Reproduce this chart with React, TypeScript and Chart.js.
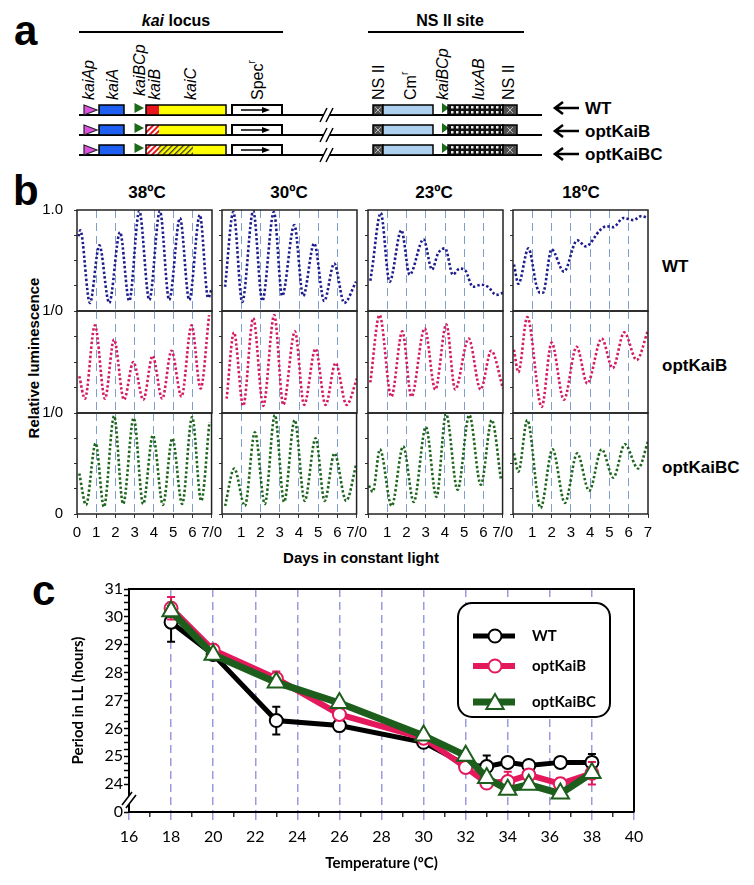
import React, { useEffect, useRef } from "react";
import { Chart, registerables } from "chart.js";

Chart.register(...registerables);

// ---------------- Panel b data: [day, relative luminescence] read at peaks/troughs ----------------
const dayTicks = [0, 1, 2, 3, 4, 5, 6, 7];
const tempLabels = ["38ºC", "30ºC", "23ºC", "18ºC"];
const strainLabels = ["WT", "optKaiB", "optKaiBC"];

const wt38: number[][] = [[0.08, 0.74], [0.17, 0.8], [0.67, 0.08], [1.16, 0.65], [1.67, 0.08], [2.23, 0.78], [2.71, 0.1], [3.23, 0.99], [3.75, 0.11], [4.3, 0.99], [4.78, 0.11], [5.34, 0.92], [5.82, 0.11], [6.37, 0.95], [6.8, 0.13], [6.98, 0.22]];
const okb38: number[][] = [[0.12, 0.36], [0.41, 0.14], [0.93, 0.86], [1.45, 0.14], [1.92, 0.72], [2.44, 0.13], [2.92, 0.5], [3.44, 0.13], [3.92, 0.56], [4.42, 0.14], [4.9, 0.61], [5.42, 0.16], [5.94, 0.86], [6.41, 0.24], [6.85, 0.96]];
const okbc38: number[][] = [[0.12, 0.4], [0.47, 0.09], [0.97, 0.7], [1.4, 0.07], [1.93, 0.97], [2.4, 0.1], [2.95, 0.95], [3.44, 0.1], [3.95, 0.78], [4.47, 0.09], [4.96, 0.75], [5.47, 0.1], [5.99, 0.96], [6.46, 0.13], [6.89, 0.91]];

const wt30: number[][] = [[0.16, 0.24], [0.59, 0.98], [1.05, 0.09], [1.62, 0.99], [2.09, 0.1], [2.69, 0.98], [3.12, 0.15], [3.75, 0.85], [4.21, 0.15], [4.78, 0.67], [5.3, 0.1], [5.82, 0.47], [6.34, 0.08], [6.95, 0.29]];
const okb30: number[][] = [[0.24, 0.14], [0.62, 0.79], [1.1, 0.07], [1.62, 0.93], [2.14, 0.07], [2.71, 0.96], [3.18, 0.08], [3.78, 0.8], [4.26, 0.08], [4.85, 0.63], [5.37, 0.08], [5.89, 0.49], [6.46, 0.08], [7.0, 0.34]];
const okbc30: number[][] = [[0.16, 0.08], [0.64, 0.45], [1.19, 0.08], [1.71, 0.81], [2.23, 0.1], [2.75, 0.98], [3.23, 0.12], [3.78, 0.93], [4.3, 0.13], [4.87, 0.75], [5.34, 0.13], [5.85, 0.6], [6.46, 0.13], [6.98, 0.49]];

const wt23: number[][] = [[0.12, 0.3], [0.2, 0.4], [0.66, 0.97], [1.12, 0.29], [1.73, 0.8], [2.16, 0.36], [2.88, 0.71], [3.32, 0.41], [3.63, 0.57], [4.0, 0.62], [4.4, 0.36], [4.75, 0.42], [5.05, 0.4], [5.44, 0.24], [5.87, 0.26], [6.22, 0.24], [6.65, 0.16], [7.0, 0.18]];
const okb23: number[][] = [[0.12, 0.3], [0.6, 0.96], [1.21, 0.16], [1.78, 0.8], [2.25, 0.16], [2.94, 0.83], [3.49, 0.23], [4.06, 0.87], [4.52, 0.23], [5.22, 0.73], [5.84, 0.23], [6.39, 0.61], [7.0, 0.24]];
const okbc23: number[][] = [[0.05, 0.28], [0.25, 0.22], [0.62, 0.64], [1.23, 0.08], [1.83, 0.67], [2.38, 0.12], [3.01, 0.86], [3.56, 0.17], [4.06, 0.99], [4.66, 0.24], [5.27, 0.98], [5.87, 0.29], [6.44, 0.93], [6.91, 0.35]];

const wt18: number[][] = [[0.05, 0.46], [0.28, 0.27], [0.8, 0.62], [1.22, 0.25], [1.4, 0.18], [1.55, 0.18], [2.0, 0.61], [2.64, 0.39], [3.33, 0.7], [3.78, 0.64], [4.51, 0.8], [4.85, 0.84], [5.2, 0.83], [5.72, 0.92], [6.24, 0.9], [6.67, 0.94], [7.0, 0.92]];
const okb18: number[][] = [[0.05, 0.62], [0.28, 0.4], [0.74, 0.94], [1.49, 0.06], [2.0, 0.69], [2.64, 0.13], [3.3, 0.65], [3.85, 0.29], [4.6, 0.73], [5.17, 0.44], [5.77, 0.79], [6.41, 0.52], [7.0, 0.81]];
const okbc18: number[][] = [[0.05, 0.6], [0.28, 0.42], [0.74, 0.93], [1.43, 0.06], [2.05, 0.64], [2.69, 0.11], [3.33, 0.6], [3.95, 0.23], [4.6, 0.64], [5.2, 0.36], [5.8, 0.69], [6.49, 0.45], [7.0, 0.72]];

const traces = [
  [wt38, okb38, okbc38],
  [wt30, okb30, okbc30],
  [wt23, okb23, okbc23],
  [wt18, okb18, okbc18],
];

// ---------------- Panel c data ----------------
const temps = [18, 20, 23, 26, 30, 32, 33, 34, 35, 36.5, 38];
const wtPeriod = [29.81, 28.65, 26.28, 26.1, 25.5, 24.69, 24.63, 24.78, 24.67, 24.78, 24.78];
const wtErr = [0.7, 0.1, 0.5, 0.1, 0.1, 0.1, 0.4, 0.15, 0.1, 0.1, 0.3];
const okbPeriod = [30.31, 28.81, 27.79, 26.5, 25.65, 24.6, 24.04, 24.09, 24.33, 24.01, 24.39];
const okbErr = [0.4, 0.2, 0.25, 0.15, 0.1, 0.1, 0.15, 0.35, 0.15, 0.2, 0.4];
const okbcPeriod = [30.2, 28.64, 27.65, 26.91, 25.74, 25.02, 24.22, 23.8, 23.98, 23.66, 24.4];
const okbcErr = [0.2, 0.1, 0.15, 0.1, 0.1, 0.1, 0.15, 0.1, 0.1, 0.1, 0.15];
const xTicksC = [16, 18, 20, 22, 24, 26, 28, 30, 32, 34, 36, 38, 40];
const yTicksC = [24, 25, 26, 27, 28, 29, 30, 31];

// ---------------- styles ----------------
const FONT_B = "'Liberation Sans', Arial, sans-serif";
const FONT_C = "Lato, 'Open Sans', sans-serif";
const traceColors = ["#1c1c8c", "#d41a60", "#1d651d"];
const DASH_B = "#7f9ecb";
const GRID_C = "#9a9ae0";
const C_BLACK = "#000000";
const C_PINK = "#e4195c";
const C_GREEN = "#1d5e1d";

const COL_LEFT = [77, 222, 368, 513];
const ROW_TOP = [210, 311, 413];
const ROW_H = [101, 102, 101];
const PLOT_W = 135;
const PT = 24;
const PR = 16;

function ChartCanvas(props: { left: number; top: number; width: number; height: number; build: () => any }) {
  const ref = useRef<HTMLCanvasElement>(null);
  useEffect(() => {
    const chart = new Chart(ref.current as HTMLCanvasElement, props.build());
    return () => chart.destroy();
  }, []);
  return (
    <canvas
      ref={ref}
      width={props.width}
      height={props.height}
      style={{ position: "absolute", left: props.left, top: props.top, width: props.width, height: props.height }}
    />
  );
}

const frameB = {
  id: "frameB",
  afterDatasetsDraw(chart: any) {
    const { ctx, chartArea: a } = chart;
    ctx.save();
    ctx.strokeStyle = "#222";
    ctx.lineWidth = 1.5;
    ctx.strokeRect(a.left, a.top, a.right - a.left, a.bottom - a.top);
    ctx.restore();
  },
};

function traceConfig(c: number, r: number) {
  const pts = traces[c][r];
  const bottom = r === 2;
  return {
    type: "line",
    data: {
      datasets: [
        {
          data: pts.map(([x, y]) => ({ x, y })),
          borderColor: traceColors[r],
          borderWidth: 2.6,
          borderDash: [2.4, 2.2],
          pointRadius: 0,
          cubicInterpolationMode: "monotone",
          fill: false,
        },
      ],
    },
    options: {
      animation: false,
      responsive: false,
      devicePixelRatio: 1,
      events: [],
      layout: { padding: { top: PT, right: PR, left: 0, bottom: 0 } },
      plugins: { legend: { display: false }, tooltip: { enabled: false } },
      scales: {
        x: {
          type: "linear",
          min: dayTicks[0],
          max: dayTicks[dayTicks.length - 1],
          afterFit: (s: any) => {
            s.height = bottom ? 32 : 24;
          },
          ticks: {
            display: bottom,
            stepSize: 1,
            autoSkip: false,
            maxRotation: 0,
            padding: 6,
            color: "#000",
            font: { family: FONT_B, size: 15 },
            callback: (v: number) => {
              if (v === 0 && c > 0) return "";
              if (v === 7 && c < 3) return "7/0";
              return String(v);
            },
          },
          grid: {
            color: (ctx: any) => {
              const v = ctx.tick ? ctx.tick.value : 0;
              return v > 0 && v < 7 ? DASH_B : "transparent";
            },
            lineWidth: 1,
            drawTicks: bottom,
            tickLength: 4,
            tickColor: "#333",
            tickWidth: 1,
          },
          border: { display: false, dash: [8, 5] },
        },
        y: {
          min: 0,
          max: 1,
          afterFit: (s: any) => {
            s.width = c === 0 ? 40 : 8;
          },
          ticks: {
            display: c === 0,
            stepSize: 0.25,
            autoSkip: false,
            padding: 11,
            color: "#000",
            font: { family: FONT_B, size: 15 },
            callback: (v: number) => {
              if (v === 1) return r === 0 ? "1.0" : "1/0";
              if (v === 0 && r === 2) return "0";
              return "";
            },
          },
          grid: { drawOnChartArea: false, tickLength: 3, tickColor: "#333", tickWidth: 1 },
          border: { display: false },
        },
      },
    },
    plugins: [frameB],
  };
}

// ---------------- Panel c plugins ----------------
const errorBars = {
  id: "errorBars",
  beforeDatasetDraw(chart: any, args: any) {
    const ds = chart.data.datasets[args.index];
    if (!ds.errors) return;
    const ys = chart.scales.y;
    const ctx = chart.ctx;
    ctx.save();
    ctx.strokeStyle = ds.borderColor;
    ctx.lineWidth = 2;
    args.meta.data.forEach((pt: any, j: number) => {
      const v = ds.data[j].y;
      const e = ds.errors[j];
      const yTop = ys.getPixelForValue(v + e);
      const yBot = ys.getPixelForValue(v - e);
      ctx.beginPath();
      ctx.moveTo(pt.x, yTop);
      ctx.lineTo(pt.x, yBot);
      ctx.moveTo(pt.x - 4, yTop);
      ctx.lineTo(pt.x + 4, yTop);
      ctx.moveTo(pt.x - 4, yBot);
      ctx.lineTo(pt.x + 4, yBot);
      ctx.stroke();
    });
    ctx.restore();
  },
};

function drawMarker(ctx: CanvasRenderingContext2D, ds: any, x: number, y: number) {
  ctx.save();
  ctx.fillStyle = "#fff";
  ctx.strokeStyle = ds.pointBorderColor;
  ctx.lineWidth = ds.pointBorderWidth;
  ctx.beginPath();
  const r = ds.pointRadius;
  if (ds.pointStyle === "triangle") {
    for (let k = 0; k < 3; k++) {
      const a = (k * 2 * Math.PI) / 3;
      const px = x + Math.sin(a) * r;
      const py = y - Math.cos(a) * r;
      if (k === 0) ctx.moveTo(px, py);
      else ctx.lineTo(px, py);
    }
    ctx.closePath();
  } else {
    ctx.arc(x, y, r, 0, Math.PI * 2);
  }
  ctx.fill();
  ctx.stroke();
  ctx.restore();
}

const decorC = {
  id: "decorC",
  afterDraw(chart: any) {
    const { ctx, chartArea: a, scales } = chart;
    ctx.save();
    // top and right frame
    ctx.strokeStyle = "#000";
    ctx.lineWidth = 2;
    ctx.beginPath();
    ctx.moveTo(a.left, a.top);
    ctx.lineTo(a.right, a.top);
    ctx.lineTo(a.right, a.bottom);
    ctx.stroke();
    // axis break
    const yb = (scales.y.getPixelForValue(24) + scales.y.getPixelForValue(23)) / 2 + 2;
    const x0 = a.left;
    ctx.fillStyle = "#fff";
    ctx.beginPath();
    ctx.moveTo(x0 - 7, yb + 5);
    ctx.lineTo(x0 + 3, yb - 8);
    ctx.lineTo(x0 + 7, yb - 5);
    ctx.lineTo(x0 - 3, yb + 8);
    ctx.closePath();
    ctx.fill();
    ctx.lineWidth = 1.6;
    ctx.beginPath();
    ctx.moveTo(x0 - 7, yb + 5);
    ctx.lineTo(x0 + 3, yb - 8);
    ctx.moveTo(x0 - 3, yb + 8);
    ctx.lineTo(x0 + 7, yb - 5);
    ctx.stroke();
    // legend
    const bx = a.left + 329;
    const by = a.top + 14;
    const bw = 152;
    const bh = 114;
    ctx.beginPath();
    ctx.roundRect(bx, by, bw, bh, 14);
    ctx.fillStyle = "#fff";
    ctx.fill();
    ctx.lineWidth = 2;
    ctx.strokeStyle = "#000";
    ctx.stroke();
    const entryY = [33, 63, 99];
    chart.data.datasets.forEach((ds: any, i: number) => {
      const y = by + entryY[i];
      ctx.strokeStyle = ds.borderColor;
      ctx.lineWidth = ds.borderWidth;
      ctx.beginPath();
      ctx.moveTo(bx + 15, y);
      ctx.lineTo(bx + 57, y);
      ctx.stroke();
      drawMarker(ctx, ds, bx + 37, y + (ds.pointStyle === "triangle" ? 2 : 0));
      ctx.fillStyle = "#000";
      ctx.font = "bold 15px " + FONT_C;
      ctx.textBaseline = "middle";
      ctx.textAlign = "left";
      ctx.fillText(ds.label, bx + 74, y);
    });
    ctx.restore();
  },
};

function periodConfig() {
  const mk = (arr: number[]) => temps.map((t, i) => ({ x: t, y: arr[i] }));
  return {
    type: "line",
    data: {
      datasets: [
        {
          label: strainLabels[0],
          data: mk(wtPeriod),
          errors: wtErr,
          borderColor: C_BLACK,
          borderWidth: 5,
          pointStyle: "circle",
          pointRadius: 6.5,
          pointBackgroundColor: "#fff",
          pointBorderColor: C_BLACK,
          pointBorderWidth: 2,
          order: 3,
        },
        {
          label: strainLabels[1],
          data: mk(okbPeriod),
          errors: okbErr,
          borderColor: C_PINK,
          borderWidth: 6,
          pointStyle: "circle",
          pointRadius: 6.5,
          pointBackgroundColor: "#fff",
          pointBorderColor: C_PINK,
          pointBorderWidth: 2,
          order: 2,
        },
        {
          label: strainLabels[2],
          data: mk(okbcPeriod),
          errors: okbcErr,
          borderColor: C_GREEN,
          borderWidth: 7,
          pointStyle: "triangle",
          pointRadius: 10,
          pointBackgroundColor: "#fff",
          pointBorderColor: C_GREEN,
          pointBorderWidth: 2,
          order: 1,
        },
      ],
    },
    options: {
      animation: false,
      responsive: false,
      devicePixelRatio: 1,
      events: [],
      layout: { padding: { left: 60, top: 14, right: 120, bottom: 0 } },
      plugins: { legend: { display: false }, tooltip: { enabled: false } },
      scales: {
        x: {
          type: "linear",
          min: xTicksC[0],
          max: xTicksC[xTicksC.length - 1],
          afterFit: (s: any) => {
            s.height = 73;
          },
          ticks: {
            stepSize: 1,
            autoSkip: false,
            maxRotation: 0,
            padding: 7,
            color: "#000",
            font: { family: FONT_C, size: 16 },
            callback: (v: number) => (xTicksC.includes(v) ? String(v) : ""),
          },
          grid: {
            color: (ctx: any) => {
              const v = ctx.tick ? ctx.tick.value : 0;
              return xTicksC.includes(v) && v > 16 && v < 40 ? GRID_C : "transparent";
            },
            lineWidth: 1.5,
            tickLength: 8,
            tickWidth: 1.5,
            tickColor: (ctx: any) => (ctx.tick && xTicksC.includes(ctx.tick.value) ? GRID_C : "#333"),
            tickBorderDash: (ctx: any) => (ctx.tick && xTicksC.includes(ctx.tick.value) ? [7, 4] : [4, 30]),
          },
          border: { color: "#000", width: 2, dash: [8, 5] },
          title: {
            display: true,
            text: "Temperature (ºC)",
            color: "#000",
            font: { family: FONT_C, size: 15, weight: "bold" },
            padding: { top: 0, bottom: 13 },
          },
        },
        y: {
          min: 23,
          max: 31,
          afterFit: (s: any) => {
            s.width = 69;
          },
          ticks: {
            stepSize: 0.25,
            autoSkip: false,
            padding: 1,
            color: "#000",
            font: { family: FONT_C, size: 16 },
            callback: (v: number) => (v === 23 ? "0" : yTicksC.includes(v) ? String(v) : ""),
          },
          grid: {
            drawOnChartArea: false,
            tickLength: 5,
            tickWidth: 1.5,
            tickColor: (ctx: any) => (ctx.tick && ctx.tick.value > 23 && ctx.tick.value < 24 ? "transparent" : "#000"),
          },
          border: { color: "#000", width: 2 },
          title: {
            display: true,
            text: "Period in LL (hours)",
            color: "#000",
            font: { family: FONT_C, size: 15, weight: "bold" },
            padding: { top: 9, bottom: 0 },
          },
        },
      },
    },
    plugins: [errorBars, decorC],
  };
}

// ---------------- Panel a diagram + text overlay (SVG) ----------------
function Overlay() {
  const rowsY = [115, 135, 155];
  const arrowY = [108, 131, 154];
  const colCenters = [147, 289, 434, 581];
  const rowLabelY = [266, 365, 467];
  const it = { fontStyle: "italic" as const };
  const vlabels = [
    { x: 88, b: 100, el: <tspan {...it}>kaiAp</tspan> },
    { x: 112, b: 100, el: <tspan {...it}>kaiA</tspan> },
    { x: 139, b: 96, el: <tspan {...it}>kaiBCp</tspan> },
    { x: 154, b: 100, el: <tspan {...it}>kaiB</tspan> },
    { x: 190, b: 100, el: <tspan {...it}>kaiC</tspan> },
    { x: 257, b: 100, el: <><tspan>Spec</tspan><tspan dy={-6} fontSize={10}>r</tspan></> },
    { x: 378, b: 100, el: <tspan>NS II</tspan> },
    { x: 410, b: 100, el: <><tspan>Cm</tspan><tspan dy={-6} fontSize={10}>r</tspan></> },
    { x: 442, b: 100, el: <tspan {...it}>kaiBCp</tspan> },
    { x: 478, b: 100, el: <tspan {...it}>luxAB</tspan> },
    { x: 508, b: 100, el: <tspan>NS II</tspan> },
  ];
  const nsBox = (x: number, w: number, y0: number, key: string) => (
    <g key={key}>
      <rect x={x} y={y0 - 10} width={w} height={10} fill="#505050" stroke="#000" strokeWidth={1.5} />
      <path d={`M${x + w / 2 - 3} ${y0 - 8} L${x + w / 2 + 3} ${y0 - 2} M${x + w / 2 + 3} ${y0 - 8} L${x + w / 2 - 3} ${y0 - 2}`} stroke="#bbb" strokeWidth={1} />
    </g>
  );
  return (
    <svg width={754} height={885} style={{ position: "absolute", left: 0, top: 0 }} fontFamily={FONT_B}>
      <defs>
        <pattern id="hatchRed" patternUnits="userSpaceOnUse" width="4" height="4" patternTransform="rotate(45)">
          <rect width="4" height="4" fill="#fff" />
          <rect width="2" height="4" fill="#e8141e" />
        </pattern>
        <pattern id="hatchYellow" patternUnits="userSpaceOnUse" width="4" height="4" patternTransform="rotate(45)">
          <rect width="4" height="4" fill="#ffff00" />
          <rect width="1.3" height="4" fill="#333" />
        </pattern>
        <pattern id="lux" patternUnits="userSpaceOnUse" width="5" height="5">
          <rect width="5" height="5" fill="#111" />
          <rect x="1" y="1" width="2.5" height="2.5" fill="#e8e8e8" />
        </pattern>
      </defs>

      {/* panel letters */}
      <text x={14} y={45} fontSize={42} fontWeight="bold">a</text>
      <text x={13} y={205} fontSize={42} fontWeight="bold">b</text>
      <text x={32} y={605} fontSize={42} fontWeight="bold">c</text>

      {/* panel a headers */}
      <text x={176} y={26} fontSize={16} fontWeight="bold" textAnchor="middle">
        <tspan fontStyle="italic">kai</tspan> locus
      </text>
      <line x1={79} x2={283} y1={32} y2={32} stroke="#000" strokeWidth={2} />
      <text x={450} y={26} fontSize={16} fontWeight="bold" textAnchor="middle">NS II site</text>
      <line x1={368} x2={524} y1={32} y2={32} stroke="#000" strokeWidth={2} />

      {vlabels.map((v, i) => (
        <text key={i} x={v.x} y={v.b} fontSize={16} dominantBaseline="central" transform={`rotate(-90 ${v.x} ${v.b})`}>
          {v.el}
        </text>
      ))}

      {rowsY.map((y0, r) => (
        <g key={"row" + r}>
          <line x1={79} x2={542} y1={y0} y2={y0} stroke="#000" strokeWidth={2} />
          {/* axis break */}
          <polygon points={`${320},${y0 + 7} ${327},${y0 - 7} ${333},${y0 - 7} ${326},${y0 + 7}`} fill="#fff" />
          <path d={`M320 ${y0 + 7} L327 ${y0 - 7} M326 ${y0 + 7} L333 ${y0 - 7}`} stroke="#000" strokeWidth={1.5} />
          {/* kaiA promoter */}
          <polygon points={`84,${y0 - 10} 97,${y0 - 5} 84,${y0}`} fill="#e050e0" stroke="#222" strokeWidth={1.2} />
          <rect x={99} y={y0 - 10} width={25} height={10} fill="#1e5ef0" stroke="#000" strokeWidth={1.5} />
          {/* kaiBC promoter */}
          <polygon points={`134.5,${y0 - 12} 144,${y0 - 7} 134.5,${y0 - 2}`} fill="#1a6a1a" />
          <rect x={146} y={y0 - 10} width={13} height={10} fill={r === 0 ? "#e8141e" : "url(#hatchRed)"} />
          {r === 2 ? (
            <>
              <rect x={159} y={y0 - 10} width={34} height={10} fill="url(#hatchYellow)" />
              <rect x={193} y={y0 - 10} width={33} height={10} fill="#ffff00" />
            </>
          ) : (
            <rect x={159} y={y0 - 10} width={67} height={10} fill="#ffff00" />
          )}
          <rect x={146} y={y0 - 10} width={80} height={10} fill="none" stroke="#000" strokeWidth={1.5} />
          {/* Spec box */}
          <rect x={232} y={y0 - 10} width={50} height={10} fill="#fff" stroke="#000" strokeWidth={2} />
          <line x1={241} x2={266} y1={y0 - 5} y2={y0 - 5} stroke="#000" strokeWidth={1.5} />
          <polygon points={`262,${y0 - 8} 270,${y0 - 5} 262,${y0 - 2}`} fill="#000" />
          {/* NS II site */}
          {nsBox(373, 10, y0, "nsl")}
          <rect x={383} y={y0 - 10} width={50} height={10} fill="#aed0ef" stroke="#000" strokeWidth={1.5} />
          <polygon points={`442,${y0 - 12} 449,${y0 - 7} 442,${y0 - 2}`} fill="#1a6a1a" />
          <rect x={448} y={y0 - 10} width={55} height={10} fill="url(#lux)" stroke="#000" strokeWidth={1.5} />
          {nsBox(503, 14, y0, "nsr")}
          {/* arrow + label */}
          <path d={`M579 ${arrowY[r]} H556 M563 ${arrowY[r] - 6} L555 ${arrowY[r]} L563 ${arrowY[r] + 6}`} stroke="#000" strokeWidth={2.6} fill="none" />
          <text x={585} y={arrowY[r]} fontSize={17} fontWeight="bold" dominantBaseline="central">
            {strainLabels[r]}
          </text>
        </g>
      ))}

      {/* panel b text */}
      {tempLabels.map((t, i) => (
        <text key={t} x={colCenters[i]} y={192} fontSize={17} fontWeight="bold" textAnchor="middle" dominantBaseline="central">
          {t}
        </text>
      ))}
      {strainLabels.map((s, i) => (
        <text key={s} x={662} y={rowLabelY[i]} fontSize={17} fontWeight="bold" dominantBaseline="central">
          {s}
        </text>
      ))}
      <text x={33} y={358} fontSize={15} fontWeight="bold" textAnchor="middle" dominantBaseline="central" transform="rotate(-90 33 358)">
        Relative luminescence
      </text>
      <text x={361} y={557} fontSize={15} fontWeight="bold" textAnchor="middle" dominantBaseline="central">
        Days in constant light
      </text>
    </svg>
  );
}

export default function App() {
  const smalls: any[] = [];
  for (let c = 0; c < 4; c++) {
    for (let r = 0; r < 3; r++) {
      const yw = c === 0 ? 40 : 8;
      const xh = r === 2 ? 32 : 24;
      smalls.push(
        <ChartCanvas
          key={`b${c}${r}`}
          left={COL_LEFT[c] - yw}
          top={ROW_TOP[r] - PT}
          width={yw + PLOT_W + PR}
          height={PT + ROW_H[r] + xh}
          build={() => traceConfig(c, r)}
        />
      );
    }
  }
  return (
    <div style={{ position: "absolute", left: 0, top: 0, width: 754, height: 885, background: "#fff", overflow: "hidden" }}>
      <Overlay />
      {smalls}
      <ChartCanvas left={0} top={575} width={754} height={310} build={periodConfig} />
    </div>
  );
}
